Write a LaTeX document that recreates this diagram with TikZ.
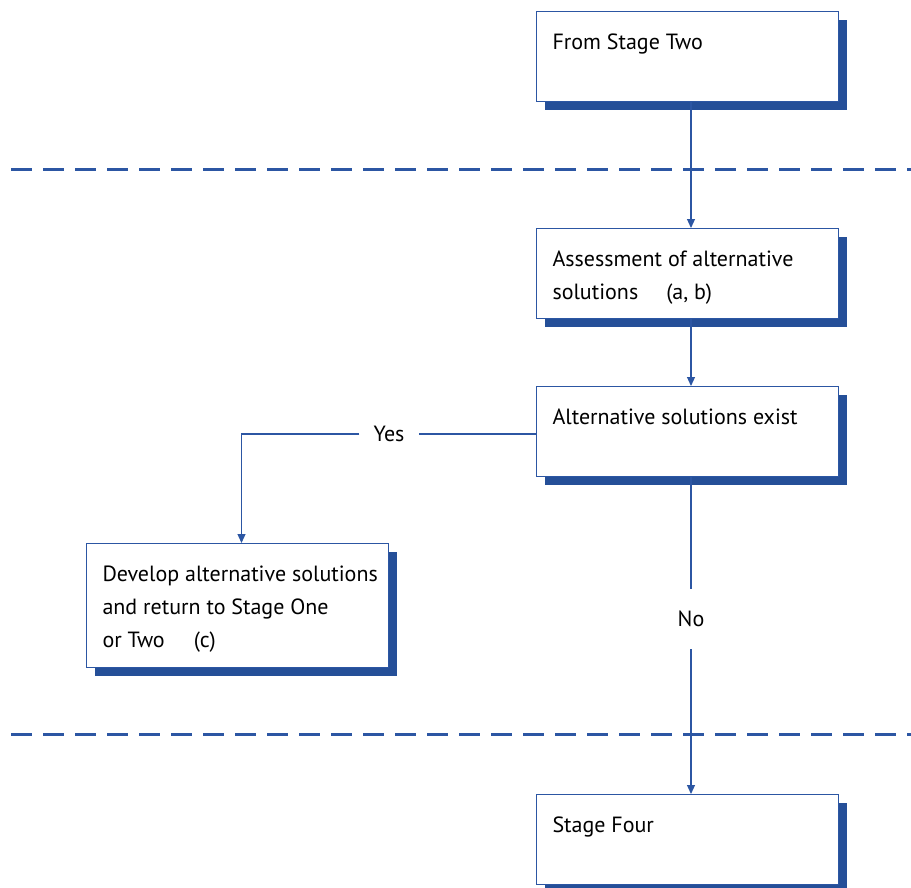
\documentclass[tikz,border=0pt]{standalone}
\usepackage{fontspec}
\setmainfont{PT Sans}
\usetikzlibrary{arrows.meta,shadows}

\definecolor{lineblue}{RGB}{44,86,163}
\definecolor{shadeblue}{RGB}{37,79,152}

% text of a box: height, lines
\newcommand{\boxtext}[2]{\parbox[c][#1][t]{302pt}{\leftskip=16pt\rightskip=0pt plus 1fil\vspace*{22pt}#2}}

\tikzset{
    stagebox/.style={draw=lineblue, line width=1pt, fill=white, inner sep=0pt, anchor=north west,
        general shadow={fill=shadeblue, shadow xshift=8pt, shadow yshift=-8pt}},
    flow/.style={draw=lineblue, line width=1.2pt},
    flowarrow/.style={flow, -{Triangle[width=8pt,length=9pt]}},
    divider/.style={draw=lineblue, line width=3pt, dash pattern=on 21pt off 11pt},
    answer/.style={fill=white, inner xsep=14pt, inner ysep=22pt}
}

\begin{document}
\begin{tikzpicture}[x=1pt, y=-1pt, font=\fontsize{22}{33}\selectfont]
        \useasboundingbox (0,0) rectangle (911,887);
        % dashed dividers between the stages
        \draw[divider] (11,169) -- (911,169);
        \draw[divider] (11,734) -- (911,734);
        % boxes
        \node[stagebox] (two) at (536,11) {\boxtext{90pt}{From Stage Two}};
        \node[stagebox] (assess) at (536,228) {\boxtext{90pt}{Assessment of alternative\\solutions\hspace{28pt}(a, b)}};
        \node[stagebox] (exist) at (536,386) {\boxtext{90pt}{Alternative solutions exist}};
        \node[stagebox] (develop) at (86,543) {\boxtext{124pt}{Develop alternative solutions\\and return to Stage One\\or Two\hspace{29pt}(c)}};
        \node[stagebox] (four) at (536,794) {\boxtext{90pt}{Stage Four}};
        % answers
        \node[answer] (yes) at (389,434) {Yes};
        \node[answer] (no) at (691,619) {No};
        % connectors
        \draw[flowarrow] (two.south -| 691,0) -- (assess.north -| 691,0);
        \draw[flowarrow] (assess.south -| 691,0) -- (exist.north -| 691,0);
        \draw[flow] (exist.west |- yes) -- (yes);
        \draw[flowarrow] (yes.west) -| ([xshift=4pt]develop.north);
        \draw[flow] (exist.south -| no) -- (no);
        \draw[flowarrow] (no) -- (four.north -| no);
\end{tikzpicture}
\end{document}
